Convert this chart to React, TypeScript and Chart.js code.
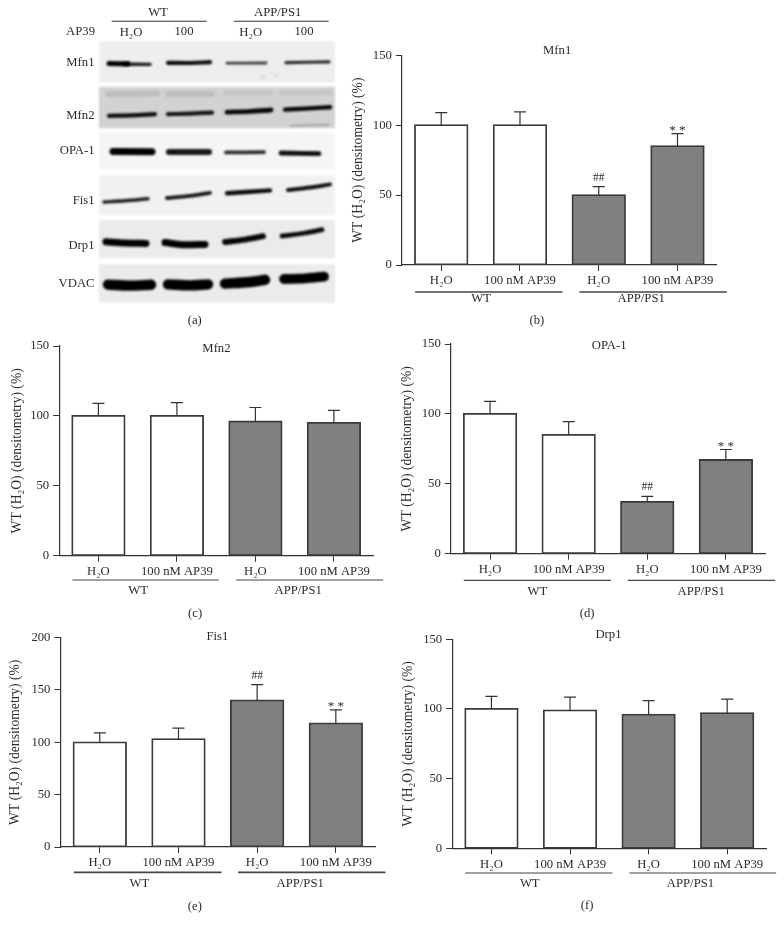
import React, { useEffect, useRef } from "react";
import { Chart, registerables } from "chart.js";

Chart.register(...registerables);

const FONT_FAMILY = '"Liberation Serif", serif';
const TEXT = "#2b2b2b";
const LINE = "#333333";

const categories = ["H₂O", "100 nM AP39", "H₂O", "100 nM AP39"];
const yAxisTitle = "WT (H₂O) (densitometry) (%)";

const mfn1Values = [100, 100, 50, 85];
const mfn1ErrorTops = [109, 109.5, 56, 94];
const mfn2Values = [100, 100, 96, 95];
const mfn2ErrorTops = [109, 109.5, 106, 104];
const opa1Values = [100, 85, 37, 67];
const opa1ErrorTops = [109, 94.5, 41, 74.5];
const fis1Values = [100, 103, 140, 118];
const fis1ErrorTops = [109, 113.5, 155, 131];
const drp1Values = [100, 99, 96, 97];
const drp1ErrorTops = [109, 108.5, 106, 107];
const significanceMarks = ["", "", "##", "**"];
const noMarks = ["", "", "", ""];

type Layout = {
  axisX: number; top: number; bottom: number; right: number;
  titleX: number; titleY: number; yTitleX: number;
  lineY: number; wtLine: number[]; appLine: number[]; lineW: number;
  groupY: number; wtX: number; appX: number;
  captionX: number; captionY: number;
};

const panels: { title: string; caption: string; values: number[]; tops: number[]; marks: string[]; yMax: number; layout: Layout }[] = [
  { title: "Mfn1", caption: "(b)", values: mfn1Values, tops: mfn1ErrorTops, marks: significanceMarks, yMax: 150,
    layout: { axisX: 401.7, top: 55.3, bottom: 265, right: 716.7, titleX: 557, titleY: 51, yTitleX: 358, lineY: 292, wtLine: [415, 562.3], appLine: [579.3, 726.7], lineW: 1.3, groupY: 299, wtX: 481, appX: 641, captionX: 536.7, captionY: 320.7 } },
  { title: "Mfn2", caption: "(c)", values: mfn2Values, tops: mfn2ErrorTops, marks: noMarks, yMax: 150,
    layout: { axisX: 58.7, top: 346, bottom: 555.7, right: 372.7, titleX: 216, titleY: 348.3, yTitleX: 16.7, lineY: 580, wtLine: [72, 218.3], appLine: [235.7, 382.7], lineW: 1.1, groupY: 591, wtX: 137.7, appX: 297.7, captionX: 194.7, captionY: 614 } },
  { title: "OPA-1", caption: "(d)", values: opa1Values, tops: opa1ErrorTops, marks: significanceMarks, yMax: 150,
    layout: { axisX: 450.3, top: 343.7, bottom: 553.3, right: 764.7, titleX: 608.7, titleY: 345.7, yTitleX: 406.7, lineY: 580, wtLine: [463.3, 610.3], appLine: [627.3, 774.7], lineW: 1.3, groupY: 591, wtX: 537, appX: 700.7, captionX: 586.7, captionY: 613.3 } },
  { title: "Fis1", caption: "(e)", values: fis1Values, tops: fis1ErrorTops, marks: significanceMarks, yMax: 200,
    layout: { axisX: 60.3, top: 637.3, bottom: 846.7, right: 375, titleX: 217.3, titleY: 636.7, yTitleX: 15, lineY: 872, wtLine: [73.7, 221.3], appLine: [238, 385.3], lineW: 1.8, groupY: 883.3, wtX: 139.3, appX: 300, captionX: 194.7, captionY: 906.7 } },
  { title: "Drp1", caption: "(f)", values: drp1Values, tops: drp1ErrorTops, marks: noMarks, yMax: 150,
    layout: { axisX: 451.7, top: 639.3, bottom: 848.3, right: 766, titleX: 608, titleY: 635, yTitleX: 407.7, lineY: 873, wtLine: [464.7, 612], appLine: [629, 775.7], lineW: 1.1, groupY: 883.3, wtX: 529.3, appX: 690, captionX: 586.7, captionY: 906 } },
];

const FS = 12.7;
const YFS = 13.6;
const drawText = (ctx: CanvasRenderingContext2D, s: string, x: number, y: number, align: CanvasTextAlign = "center", size = FS) => {
  ctx.save();
  ctx.font = `${size}px ${FONT_FAMILY}`;
  ctx.fillStyle = TEXT;
  ctx.textAlign = align;
  ctx.textBaseline = "middle";
  ctx.fillText(s, x, y);
  ctx.restore();
};

function BarPanel({ p }: { p: (typeof panels)[number] }) {
  const ref = useRef<HTMLCanvasElement>(null);
  const L = p.layout;
  const lh = YFS * 1.2;
  const box = {
    left: L.yTitleX - lh / 2,
    top: Math.min(L.top, L.titleY) - 14,
    right: L.appLine[1] + 6,
    bottom: L.captionY + 12,
  };
  const width = Math.round(box.right - box.left);
  const height = Math.round(box.bottom - box.top);
  useEffect(() => {
    const ox = box.left, oy = box.top;
    const overlay = {
      id: "panelOverlay",
      afterDatasetsDraw(chart: any) {
        const { ctx, scales } = chart;
        const { x, y } = scales;
        ctx.save();
        ctx.strokeStyle = LINE;
        ctx.lineWidth = 1.2;
        p.tops.forEach((top, i) => {
          const cx = x.getPixelForValue(i);
          const yTop = y.getPixelForValue(top);
          const yBar = y.getPixelForValue(p.values[i]);
          ctx.beginPath();
          ctx.moveTo(cx, yBar);
          ctx.lineTo(cx, yTop);
          ctx.moveTo(cx - 6, yTop);
          ctx.lineTo(cx + 6, yTop);
          ctx.stroke();
          const mark = p.marks[i];
          if (mark === "##") drawText(ctx, mark, cx, yTop - 9, "center", 11.5);
          if (mark === "**") drawText(ctx, "* *", cx, yTop - 3, "center", 13);
        });
        ctx.strokeStyle = "#444444";
        ctx.lineWidth = L.lineW;
        [L.wtLine, L.appLine].forEach((seg) => {
          ctx.beginPath();
          ctx.moveTo(seg[0] - ox, L.lineY - oy);
          ctx.lineTo(seg[1] - ox, L.lineY - oy);
          ctx.stroke();
        });
        ctx.restore();
        drawText(ctx, p.title, L.titleX - ox, L.titleY - oy);
        drawText(ctx, "WT", L.wtX - ox, L.groupY - oy);
        drawText(ctx, "APP/PS1", L.appX - ox, L.groupY - oy);
        drawText(ctx, p.caption, L.captionX - ox, L.captionY - oy);
      },
    };
    const chart = new Chart(ref.current!, {
      type: "bar",
      data: {
        labels: categories,
        datasets: [{
          data: p.values,
          backgroundColor: ["#ffffff", "#ffffff", "#808080", "#808080"],
          borderColor: "#3a3a3a",
          borderWidth: 1.8,
          borderSkipped: false,
          inflateAmount: 0.9,
          categoryPercentage: 1,
          barPercentage: 0.667,
        }],
      },
      options: {
        animation: false,
        responsive: false,
        devicePixelRatio: 1,
        layout: { autoPadding: false, padding: { left: 0, bottom: 0, top: L.top - box.top, right: box.left + width - L.right } },
        plugins: { legend: { display: false }, tooltip: { enabled: false } },
        scales: {
          x: {
            grid: { offset: false, drawOnChartArea: false, color: LINE, tickLength: 6 },
            border: { color: LINE, width: 1.2 },
            ticks: { color: TEXT, font: { family: FONT_FAMILY, size: FS }, padding: 2.5, maxRotation: 0, autoSkip: false },
            afterFit: (s: any) => { s.height = box.top + height - L.bottom; },
          },
          y: {
            min: 0,
            max: p.yMax,
            grid: { drawOnChartArea: false, color: LINE, tickLength: 6 },
            border: { color: LINE, width: 1.2 },
            ticks: { stepSize: 50, color: TEXT, font: { family: FONT_FAMILY, size: FS }, padding: 4 },
            title: { display: true, text: yAxisTitle, color: TEXT, font: { family: FONT_FAMILY, size: YFS }, padding: 0 },
            afterFit: (s: any) => { s.width = L.axisX - box.left; },
          },
        },
      } as any,
      plugins: [overlay],
    });
    return () => chart.destroy();
  }, []);
  return <canvas ref={ref} width={width} height={height} style={{ position: "absolute", left: box.left, top: box.top, width, height }} />;
}

// Panel (a): the immunoblot, in picture units of the blot area.
const blotPanels = [
  [99, 41.3, 335, 82.7], [99, 86.7, 335, 128.3], [99, 132.7, 335, 169],
  [99, 175.3, 335, 215], [99, 220, 335, 258.3], [99, 264.3, 335, 302.7],
];
const blotPanelShades = ["#eeeeee", "#d2d2d2", "#f5f5f5", "#f1f1f1", "#ebebeb", "#ebebeb"];
const blotRowNames = ["Mfn1", "Mfn2", "OPA-1", "Fis1", "Drp1", "VDAC"];
const blotRowNameY = [62.7, 116, 151, 200.7, 246, 283.7];

const mfn1Bands = [[[109, 63.6], [128, 63.8]], [[124, 64.2], [150, 64.4]], [[168, 62.8], [187, 63], [210, 62.2]], [[227, 63.2], [266, 63]], [[286, 62.7], [329, 61.8]]];
const mfn1Widths = [5, 3.4, 4.2, 2.8, 3.2];
const mfn1Shades = ["#000000", "#1c1c1c", "#0c0c0c", "#3c3c3c", "#282828"];

const mfn2Bands = [[[109, 115.8], [130, 115.4], [155, 114.2]], [[168, 114.2], [190, 113.6], [212, 112.6]], [[227, 112.2], [250, 111.4], [271, 110]], [[285, 109.6], [305, 108.6], [330, 107.2]]];
const mfn2Widths = [4.2, 4.2, 4.8, 4.4];
const mfn2Shades = ["#0c0c0c", "#141414", "#080808", "#060606"];
const mfn2Smudges = [[[108, 94], [157, 93.5]], [[168, 94], [212, 94]], [[226, 93], [270, 93]], [[282, 93], [330, 92.5]], [[290, 125.6], [329, 124.8]], [[262, 77], [264, 77]], [[275, 75.5], [277, 75.5]]];
const mfn2SmudgeWidths = [6, 6, 5, 5, 1.2, 3.5, 2.5];
const mfn2SmudgeShades = ["#bdbdbd", "#bdbdbd", "#c4c4c4", "#c4c4c4", "#8f8f8f", "#d8d8d8", "#d8d8d8"];

const opa1Bands = [[[113, 151.6], [152, 151.8]], [[169, 152], [209, 152]], [[226, 152.4], [264, 152.2]], [[281, 153], [319, 153.6]]];
const opa1Widths = [7, 6, 3.8, 4.8];
const opa1Shades = ["#000000", "#161616", "#2a2a2a", "#0c0c0c"];

const fis1Bands = [[[104, 202], [125, 200.8], [148, 198.8]], [[167, 198], [190, 195.8], [210, 192.8]], [[227, 193.2], [250, 191.8], [270, 190.4]], [[288, 190], [310, 187.6], [330, 184.4]]];
const fis1Widths = [3.4, 3.8, 4.4, 4];
const fis1Shades = ["#1c1c1c", "#141414", "#0a0a0a", "#0e0e0e"];

const drp1Bands = [[[106, 241.8], [125, 243], [146, 243.4]], [[165, 242.6], [185, 244.8], [205, 244.4]], [[225, 242], [245, 239.6], [263, 236.2]], [[282, 236], [305, 233], [322, 229.6]]];
const drp1Widths = [7, 7, 5.8, 4.8];
const drp1Shades = ["#000000", "#000000", "#060606", "#0a0a0a"];

const vdacBands = [[[108, 284.6], [130, 285.6], [151, 284.8]], [[168, 284.4], [190, 285.4], [208, 284.4]], [[225, 283.6], [250, 282], [265, 279.8]], [[284, 279], [305, 278.4], [324, 276.6]]];
const vdacWidths = [10.4, 10.4, 10.4, 9.8];
const vdacShades = ["#000000", "#000000", "#000000", "#000000"];

const blotGroups = [
  { bands: mfn2Smudges, widths: mfn2SmudgeWidths, shades: mfn2SmudgeShades },
  { bands: mfn1Bands, widths: mfn1Widths, shades: mfn1Shades },
  { bands: mfn2Bands, widths: mfn2Widths, shades: mfn2Shades },
  { bands: opa1Bands, widths: opa1Widths, shades: opa1Shades },
  { bands: fis1Bands, widths: fis1Widths, shades: fis1Shades },
  { bands: drp1Bands, widths: drp1Widths, shades: drp1Shades },
  { bands: vdacBands, widths: vdacWidths, shades: vdacShades },
];

function BlotPanel() {
  const ref = useRef<HTMLCanvasElement>(null);
  useEffect(() => {
    const blot = {
      id: "blot",
      beforeDatasetsDraw(chart: any) {
        const { ctx, scales: { x, y } } = chart;
        ctx.save();
        ctx.filter = "blur(1px)";
        blotPanels.forEach((r, i) => {
          ctx.fillStyle = blotPanelShades[i];
          ctx.fillRect(x.getPixelForValue(r[0]), y.getPixelForValue(r[1]), x.getPixelForValue(r[2]) - x.getPixelForValue(r[0]), y.getPixelForValue(r[3]) - y.getPixelForValue(r[1]));
        });
        ctx.restore();
      },
      beforeDatasetDraw(chart: any) {
        chart.ctx.save();
        chart.ctx.filter = "blur(1.1px)";
      },
      afterDatasetDraw(chart: any) {
        chart.ctx.restore();
      },
      afterDatasetsDraw(chart: any) {
        const { ctx } = chart;
        blotRowNames.forEach((n, i) => drawText(ctx, n, 94.5, blotRowNameY[i], "right"));
        drawText(ctx, "WT", 158, 12.7);
        drawText(ctx, "APP/PS1", 277.7, 12.7);
        drawText(ctx, "AP39", 95, 32, "right");
        drawText(ctx, "H₂O", 131, 32.5);
        drawText(ctx, "100", 184, 32);
        drawText(ctx, "H₂O", 250.7, 32.5);
        drawText(ctx, "100", 304, 32);
        drawText(ctx, "(a)", 194.7, 321);
        ctx.save();
        ctx.strokeStyle = LINE;
        ctx.lineWidth = 1.1;
        [[111.7, 206.7], [233.7, 328.7]].forEach((s) => {
          ctx.beginPath();
          ctx.moveTo(s[0], 21.3);
          ctx.lineTo(s[1], 21.3);
          ctx.stroke();
        });
        ctx.restore();
      },
    };
    const datasets = blotGroups.flatMap((g) =>
      g.bands.map((band, i) => ({
        data: band.map((pt) => ({ x: pt[0], y: pt[1] })),
        showLine: true,
        pointRadius: 0,
        borderColor: g.shades[i],
        borderWidth: g.widths[i],
        borderCapStyle: "round",
        borderJoinStyle: "round",
        cubicInterpolationMode: "monotone",
      }))
    );
    const chart = new Chart(ref.current!, {
      type: "scatter",
      data: { datasets },
      options: {
        animation: false,
        responsive: false,
        devicePixelRatio: 1,
        layout: { autoPadding: false, padding: 0 },
        plugins: { legend: { display: false }, tooltip: { enabled: false } },
        scales: {
          x: { type: "linear", display: false, min: 0, max: 345 },
          y: { type: "linear", display: false, min: 0, max: 335, reverse: true },
        },
      } as any,
      plugins: [blot],
    });
    return () => chart.destroy();
  }, []);
  return <canvas ref={ref} width={345} height={335} style={{ position: "absolute", left: 0, top: 0, width: 345, height: 335 }} />;
}

export default function App() {
  return (
    <div style={{ position: "absolute", left: 0, top: 0, width: 784, height: 932, background: "#fff", overflow: "hidden" }}>
      <BlotPanel />
      {panels.map((p) => (
        <BarPanel key={p.title} p={p} />
      ))}
    </div>
  );
}
